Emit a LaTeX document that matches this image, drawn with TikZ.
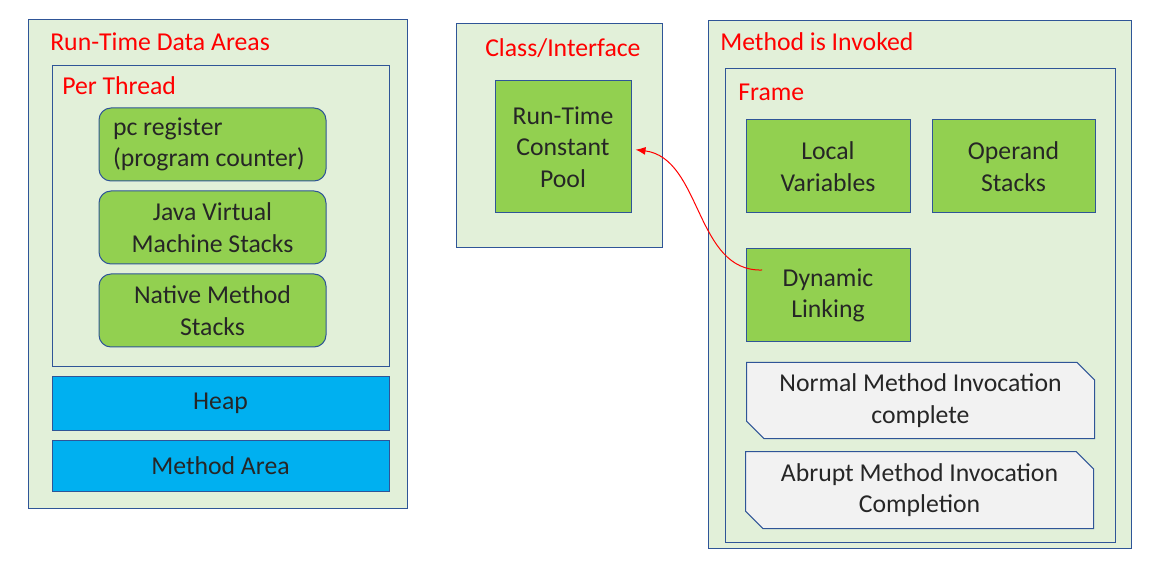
\documentclass[tikz,border=0pt]{standalone}
\usepackage{fontspec}
\setmainfont{Carlito}
\usepackage{tikz}
\usetikzlibrary{shapes, arrows, calc, positioning, backgrounds, fit}
\usetikzlibrary{arrows.meta}
\definecolor{areafill}{HTML}{E2F0D9}
\definecolor{arealine}{HTML}{2F5597}
\definecolor{boxgreen}{HTML}{92D050}
\definecolor{boxblue}{HTML}{00B0F0}
\definecolor{boxgrey}{HTML}{F2F2F2}
\definecolor{textgrey}{HTML}{262626}

\begin{document}
\begin{tikzpicture}[
      x=0.75pt, y=-0.75pt,
      every node/.style={font=\fontsize{19.3}{23.5}\selectfont, text=textgrey, inner sep=0pt},
      dims/.style 2 args={minimum width=#1*0.75pt, minimum height=#2*0.75pt},
      area/.style={rectangle, draw=arealine, fill=areafill, line width=0.75pt},
      title/.style={anchor=west, text=red},
      part/.style={rectangle, draw=arealine, fill=boxgreen, line width=0.75pt, align=center},
      thread/.style={part, rounded corners=9pt},
      shared/.style={part, fill=boxblue},
      exit/.style={chamfered rectangle, chamfered rectangle corners={north east, south west},
        chamfered rectangle xsep=6.5pt, chamfered rectangle ysep=6.5pt,
        draw=arealine, fill=boxgrey, line width=0.75pt, align=center},
      link/.style={draw=red, line width=0.75pt, -{Latex[length=7.5pt, width=6pt]}}
    ]
    \useasboundingbox (0,0) rectangle (1149,584);

    % Run-time data areas
    \node[area, dims={379}{488}] (rtda) at (217.5,264) {};
    \node[title] (rtdatitle) at (50,42) {Run-Time Data Areas};
    \node[area, dims={337}{301}] (thread) at (220.5,216.5) {};
    \node[title] (threadtitle) at (62,86) {Per Thread};
    \node[thread, dims={227}{73}, text width=149.25pt, align=flush left] (pc) at (212.5,144.5) {pc register\\(program counter)};
    \node[thread, dims={227}{73}] (jvms) at (212.5,227.5) {Java Virtual\\Machine Stacks};
    \node[thread, dims={227}{73}] (natives) at (212.5,310.5) {Native Method\\Stacks};
    \node[shared, dims={337}{53}] (heap) at (220.5,403.5) {Heap};
    \node[shared, dims={337}{51}] (marea) at (220.5,465.5) {Method Area};

    % Class or interface
    \node[area, dims={206}{224}] (class) at (559,136) {};
    \node[title] (classtitle) at (485,48) {Class/Interface};
    \node[part, dims={136}{132}] (rtcp) at (563,147) {Run-Time\\Constant\\Pool};

    % Method invocation
    \node[area, dims={423}{527}] (invoked) at (919.5,284.5) {};
    \node[title] (invokedtitle) at (720,42) {Method is Invoked};
    \node[area, dims={390}{473}] (frame) at (920,305.5) {};
    \node[title] (frametitle) at (738,92) {Frame};
    \node[part, dims={164}{93}] (locals) at (828,166.5) {Local\\Variables};
    \node[part, dims={163}{93}] (operands) at (1013.5,166.5) {Operand\\Stacks};
    \node[part, dims={164}{93}] (dynlink) at (828,295.5) {Dynamic\\Linking};
    \node[exit, dims={348}{76}] (normal) at (920.5,400.5) {Normal Method Invocation\\complete};
    \node[exit, dims={348}{77}] (abrupt) at (919.5,490) {Abrupt Method Invocation\\Completion};

    % symbolic reference
    \coordinate (linkstart) at (762,270);
    \draw[link] (linkstart) .. controls (695,272) and (702,158) .. ([xshift=3pt, yshift=-2pt]rtcp.east);
  \end{tikzpicture}
\end{document}
